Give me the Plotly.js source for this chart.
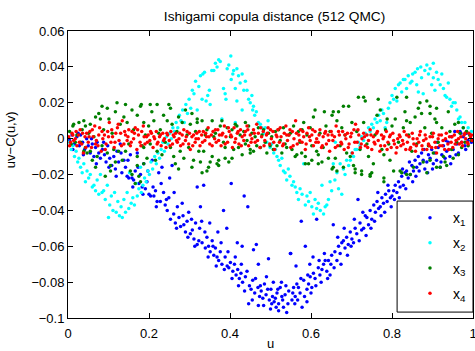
<!DOCTYPE html>
<html>
<head>
<meta charset="utf-8">
<script src="https://cdn.plot.ly/plotly-3.0.1.min.js"></script>
<style>html,body{margin:0;padding:0;background:#fff;}#chart{width:475px;height:351px;}</style>
</head>
<body>
<div id="chart"></div>
<script>
// Series values: [u, uv - C(u,v)]
const x1 = [[0.004,-0.001],[0.010,0.002],[0.016,-0.003],[0.022,0.001],[0.028,-0.004],[0.031,0.002],[0.036,-0.002],[0.041,-0.006],[0.046,0.000],[0.050,-0.004],
[0.055,-0.008],[0.060,-0.003],[0.064,-0.010],[0.068,-0.005],[0.072,-0.002],[0.076,-0.008],[0.080,-0.011],[0.085,-0.006],[0.090,-0.009],[0.094,-0.013],
[0.098,-0.004],[0.103,-0.011],[0.108,-0.015],[0.113,-0.010],[0.117,-0.017],[0.121,-0.007],[0.125,-0.013],[0.129,-0.003],[0.133,-0.019],[0.138,-0.012],
[0.142,-0.016],[0.146,-0.021],[0.150,-0.022],[0.154,-0.009],[0.158,-0.022],[0.162,-0.023],[0.166,-0.018],[0.171,-0.008],[0.175,-0.025],[0.179,-0.020],
[0.183,-0.027],[0.187,-0.014],[0.191,-0.028],[0.195,-0.024],[0.200,-0.031],[0.204,-0.032],[0.208,-0.012],[0.212,-0.032],[0.216,-0.029],[0.220,-0.035],
[0.224,-0.019],[0.228,-0.035],[0.232,-0.016],[0.236,-0.030],[0.240,-0.037],[0.245,-0.040],[0.249,-0.033],[0.253,-0.045],[0.257,-0.015],[0.261,-0.042],
[0.265,-0.047],[0.270,-0.038],[0.274,-0.044],[0.278,-0.049],[0.282,-0.036],[0.286,-0.048],[0.290,-0.052],[0.294,-0.046],[0.298,-0.041],[0.302,-0.053],
[0.307,-0.051],[0.311,-0.056],[0.315,-0.047],[0.319,-0.059],[0.319,-0.027],[0.323,-0.057],[0.327,-0.038],[0.331,-0.058],[0.335,-0.026],[0.339,-0.061],
[0.343,-0.055],[0.347,-0.060],[0.351,-0.063],[0.356,-0.057],[0.360,-0.065],[0.364,-0.061],[0.368,-0.066],[0.372,-0.068],[0.376,-0.063],[0.380,-0.070],
[0.384,-0.040],[0.388,-0.066],[0.393,-0.071],[0.397,-0.072],[0.401,-0.069],[0.403,-0.025],[0.407,-0.074],[0.411,-0.070],[0.415,-0.076],[0.419,-0.073],
[0.423,-0.078],[0.427,-0.075],[0.431,-0.080],[0.435,-0.032],[0.438,-0.077],[0.444,-0.038],[0.446,-0.092],[0.448,-0.082],[0.452,-0.084],[0.456,-0.079],
[0.461,-0.086],[0.465,-0.059],[0.469,-0.083],[0.473,-0.088],[0.477,-0.085],[0.481,-0.089],[0.485,-0.081],[0.489,-0.087],[0.495,-0.067],[0.497,-0.090],
[0.501,-0.084],[0.505,-0.088],[0.509,-0.091],[0.512,-0.089],[0.516,-0.086],[0.520,-0.092],[0.524,-0.083],[0.528,-0.088],[0.532,-0.094],[0.536,-0.087],
[0.540,-0.097],[0.545,-0.085],[0.549,-0.064],[0.553,-0.090],[0.557,-0.083],[0.561,-0.088],[0.565,-0.081],[0.569,-0.083],[0.573,-0.086],[0.576,-0.046],
[0.578,-0.094],[0.582,-0.079],[0.586,-0.060],[0.590,-0.084],[0.594,-0.081],[0.598,-0.077],[0.602,-0.083],[0.606,-0.075],[0.610,-0.078],[0.614,-0.045],
[0.618,-0.072],[0.622,-0.076],[0.627,-0.073],[0.631,-0.070],[0.635,-0.068],[0.639,-0.074],[0.643,-0.068],[0.647,-0.076],[0.651,-0.065],[0.655,-0.048],
[0.659,-0.063],[0.664,-0.068],[0.668,-0.060],[0.672,-0.064],[0.676,-0.058],[0.680,-0.057],[0.684,-0.061],[0.688,-0.055],[0.692,-0.059],[0.697,-0.052],
[0.701,-0.056],[0.705,-0.058],[0.709,-0.050],[0.713,-0.053],[0.716,-0.034],[0.721,-0.047],[0.725,-0.051],[0.730,-0.050],[0.734,-0.043],[0.738,-0.044],
[0.742,-0.048],[0.746,-0.040],[0.750,-0.045],[0.755,-0.037],[0.759,-0.041],[0.763,-0.035],[0.767,-0.039],[0.771,-0.038],[0.775,-0.033],[0.779,-0.036],
[0.784,-0.031],[0.788,-0.035],[0.792,-0.029],[0.796,-0.033],[0.800,-0.032],[0.804,-0.029],[0.808,-0.026],[0.812,-0.030],[0.816,-0.024],[0.820,-0.027],
[0.824,-0.021],[0.828,-0.026],[0.832,-0.019],[0.836,-0.018],[0.840,-0.022],[0.845,-0.020],[0.849,-0.015],[0.853,-0.018],[0.857,-0.012],[0.861,-0.016],
[0.865,-0.010],[0.869,-0.014],[0.873,-0.008],[0.877,-0.012],[0.881,-0.017],[0.886,-0.013],[0.890,-0.009],[0.894,-0.011],[0.898,-0.006],[0.902,-0.014],
[0.906,-0.008],[0.910,-0.012],[0.914,-0.005],[0.919,-0.016],[0.923,-0.009],[0.927,-0.004],[0.931,-0.011],[0.935,-0.007],[0.939,-0.002],[0.943,-0.010],
[0.947,0.001],[0.951,-0.006],[0.955,0.004],[0.960,-0.003],[0.964,-0.008],[0.968,0.004],[0.972,-0.002],[0.976,0.001],[0.980,-0.004],[0.984,0.003],
[0.988,-0.001],[0.992,0.002],[0.996,-0.002],
[0.458,-0.062],[0.470,-0.070],[0.490,-0.077],[0.527,-0.080],[0.550,-0.064],[0.563,-0.071],[0.597,-0.070],[0.605,-0.066],[0.430,-0.060],[0.418,-0.058],
[0.392,-0.050],[0.370,-0.052],[0.350,-0.047],[0.330,-0.046],[0.470,-0.093],[0.500,-0.095],[0.520,-0.096],[0.560,-0.092],[0.590,-0.091],
[0.262,-0.030],[0.268,-0.050],[0.284,-0.043],[0.296,-0.055],[0.305,-0.045],[0.313,-0.060],[0.325,-0.050],[0.338,-0.052],[0.346,-0.066],[0.358,-0.060],
[0.366,-0.071],[0.378,-0.058],[0.386,-0.073],[0.395,-0.063],[0.405,-0.078],[0.413,-0.066],[0.421,-0.082],[0.428,-0.070],[0.436,-0.085],[0.442,-0.074],
[0.455,-0.090],[0.463,-0.078],[0.475,-0.082],[0.483,-0.093],[0.493,-0.084],[0.503,-0.092],[0.507,-0.080],[0.514,-0.094],[0.518,-0.084],[0.530,-0.090],
[0.538,-0.082],[0.543,-0.092],[0.555,-0.086],[0.567,-0.090],[0.575,-0.078],[0.584,-0.088],[0.592,-0.076],[0.600,-0.086],[0.612,-0.082],[0.620,-0.068],
[0.625,-0.080],[0.633,-0.064],[0.641,-0.078],[0.649,-0.070],[0.657,-0.072],[0.666,-0.055],[0.674,-0.070],[0.682,-0.050],[0.690,-0.065],[0.699,-0.060],
[0.707,-0.045],[0.719,-0.057],[0.728,-0.041],[0.736,-0.054],[0.748,-0.050],[0.757,-0.046],[0.765,-0.030],[0.773,-0.043],[0.782,-0.041],[0.790,-0.026],
[0.798,-0.038],[0.806,-0.034],[0.818,-0.033],[0.826,-0.017],[0.834,-0.028],[0.843,-0.013],[0.851,-0.024],[0.859,-0.021],[0.867,-0.018],[0.879,-0.006],
[0.888,-0.019],[0.900,-0.017],[0.912,-0.002],[0.921,-0.013],[0.933,-0.001],[0.945,-0.014],[0.958,-0.009],[0.970,0.003],[0.982,-0.006],
[0.012,-0.006],[0.025,0.003],[0.038,-0.009],[0.058,0.000],[0.070,-0.014],[0.088,-0.002],[0.101,-0.016],[0.119,-0.021],[0.131,-0.008],[0.148,-0.012],
[0.160,-0.027],[0.173,-0.016],[0.185,-0.031],[0.197,-0.018],[0.210,-0.027],[0.218,-0.038],[0.230,-0.025],[0.243,-0.034],[0.251,-0.022]];

const x2 = [[0.003,-0.002],[0.008,-0.006],[0.012,-0.004],[0.016,-0.010],[0.020,-0.007],[0.024,-0.013],[0.027,-0.011],[0.031,-0.016],[0.035,-0.019],[0.039,-0.014],
[0.043,-0.024],[0.047,-0.018],[0.051,-0.022],[0.055,-0.020],[0.060,-0.027],[0.064,-0.026],[0.068,-0.029],[0.072,-0.023],[0.076,-0.031],[0.080,-0.020],
[0.084,-0.030],[0.088,-0.029],[0.092,-0.034],[0.097,-0.026],[0.100,-0.044],[0.103,-0.037],[0.107,-0.032],[0.111,-0.040],[0.115,-0.030],[0.119,-0.041],
[0.123,-0.035],[0.127,-0.043],[0.131,-0.038],[0.134,-0.044],[0.138,-0.034],[0.142,-0.041],[0.146,-0.030],[0.150,-0.039],[0.152,-0.019],[0.156,-0.036],
[0.160,-0.033],[0.164,-0.037],[0.168,-0.025],[0.171,-0.032],[0.175,-0.028],[0.179,-0.016],[0.181,-0.030],[0.185,-0.026],[0.189,-0.022],[0.193,-0.024],
[0.197,-0.018],[0.201,-0.020],[0.205,-0.013],[0.209,-0.017],[0.214,-0.010],[0.218,-0.014],[0.222,-0.008],[0.226,-0.011],[0.230,-0.006],[0.234,-0.002],
[0.238,-0.007],[0.243,0.001],[0.247,-0.003],[0.251,0.003],[0.255,0.000],[0.259,0.006],[0.263,0.004],[0.267,0.009],[0.271,0.006],[0.275,0.013],
[0.279,0.010],[0.283,0.016],[0.287,0.009],[0.291,0.019],[0.295,0.014],[0.299,0.022],[0.303,0.017],[0.307,0.027],[0.311,0.025],[0.315,0.032],
[0.319,0.016],[0.323,0.029],[0.327,0.035],[0.331,0.022],[0.333,0.036],[0.337,0.037],[0.341,0.021],[0.345,0.024],[0.349,0.027],[0.351,0.019],
[0.355,0.038],[0.360,0.038],[0.364,0.042],[0.368,0.040],[0.372,0.044],[0.376,0.043],[0.380,0.011],[0.384,0.028],[0.388,0.025],[0.390,0.022],
[0.393,0.039],[0.397,0.041],[0.402,0.046],[0.403,0.033],[0.407,0.036],[0.409,0.038],[0.413,0.028],[0.413,0.009],[0.417,0.039],[0.417,0.021],
[0.421,0.035],[0.425,0.031],[0.430,0.036],[0.430,0.016],[0.434,0.027],[0.438,0.032],[0.442,0.027],[0.446,0.022],[0.450,0.020],[0.454,0.024],
[0.456,0.016],[0.458,0.018],[0.461,0.013],[0.465,0.015],[0.470,0.009],[0.475,0.008],[0.479,0.006],[0.483,0.003],[0.487,0.006],[0.491,-0.002],
[0.494,0.010],[0.499,-0.005],[0.503,-0.003],[0.508,-0.008],[0.512,-0.006],[0.516,-0.010],[0.520,-0.012],[0.524,-0.015],[0.528,-0.011],[0.532,-0.018],
[0.536,-0.019],[0.540,-0.023],[0.544,-0.017],[0.548,-0.021],[0.553,-0.026],[0.557,-0.024],[0.561,-0.027],[0.565,-0.030],[0.569,-0.034],[0.573,-0.028],
[0.578,-0.031],[0.582,-0.014],[0.586,-0.037],[0.590,-0.032],[0.594,-0.035],[0.598,-0.030],[0.602,-0.038],[0.606,-0.042],[0.610,-0.034],[0.614,-0.039],
[0.618,-0.036],[0.623,-0.040],[0.627,-0.026],[0.631,-0.042],[0.635,-0.038],[0.639,-0.037],[0.643,-0.034],[0.647,-0.024],[0.651,-0.029],[0.655,-0.014],
[0.659,-0.023],[0.660,-0.002],[0.664,-0.019],[0.668,-0.028],[0.672,-0.014],[0.676,-0.031],[0.680,-0.017],[0.684,-0.020],[0.688,-0.012],[0.693,-0.015],
[0.697,-0.012],[0.701,-0.008],[0.705,-0.010],[0.709,-0.006],[0.713,-0.006],[0.717,-0.002],[0.721,-0.004],[0.725,0.001],[0.730,-0.001],[0.734,0.003],
[0.738,0.002],[0.742,0.006],[0.746,0.004],[0.750,0.008],[0.754,0.006],[0.758,0.011],[0.763,0.009],[0.767,0.013],[0.771,0.010],[0.775,0.016],
[0.779,0.014],[0.783,0.006],[0.787,0.009],[0.791,0.017],[0.795,0.020],[0.800,0.024],[0.804,0.022],[0.808,0.028],[0.812,0.021],[0.816,0.030],
[0.820,0.031],[0.824,0.026],[0.828,0.033],[0.832,0.033],[0.836,0.028],[0.840,0.035],[0.845,0.031],[0.849,0.032],[0.851,0.036],[0.857,0.037],
[0.861,0.030],[0.863,0.039],[0.865,0.026],[0.871,0.040],[0.873,0.034],[0.877,0.025],[0.881,0.038],[0.886,0.041],[0.890,0.036],[0.894,0.039],
[0.898,0.030],[0.902,0.042],[0.902,0.034],[0.906,0.027],[0.910,0.037],[0.914,0.033],[0.919,0.030],[0.923,0.036],[0.927,0.028],[0.931,0.024],
[0.935,0.023],[0.939,0.031],[0.943,0.022],[0.947,0.018],[0.951,0.020],[0.956,0.020],[0.960,0.016],[0.964,0.011],[0.968,0.012],[0.972,0.009],
[0.976,0.006],[0.980,0.009],[0.984,0.004],[0.988,0.006],[0.992,0.002],[0.996,0.004]];

const x3 = [[0.004,0.004],[0.008,-0.003],[0.012,0.007],[0.014,0.008],[0.018,-0.002],[0.022,0.002],[0.027,0.009],[0.031,-0.002],[0.035,0.005],[0.039,0.010],
[0.039,-0.007],[0.043,0.007],[0.043,-0.005],[0.047,-0.008],[0.051,0.003],[0.055,0.008],[0.055,-0.007],[0.060,-0.012],[0.064,0.001],[0.068,0.012],
[0.068,-0.016],[0.072,-0.010],[0.076,0.014],[0.080,0.011],[0.084,0.018],[0.084,-0.004],[0.088,0.005],[0.092,-0.021],[0.097,0.017],[0.097,-0.008],
[0.101,0.011],[0.105,-0.015],[0.105,-0.018],[0.109,0.003],[0.113,-0.006],[0.117,0.015],[0.117,-0.013],[0.121,0.020],[0.125,-0.007],[0.129,0.008],
[0.134,-0.012],[0.138,0.012],[0.142,0.019],[0.142,-0.007],[0.146,0.009],[0.150,-0.003],[0.154,-0.018],[0.158,0.016],[0.158,-0.020],[0.162,0.005],
[0.166,-0.025],[0.171,0.013],[0.171,-0.015],[0.171,-0.010],[0.175,-0.021],[0.179,0.018],[0.179,-0.024],[0.181,0.019],[0.183,-0.004],[0.187,0.009],
[0.187,-0.014],[0.187,-0.005],[0.191,0.002],[0.195,-0.011],[0.199,0.007],[0.203,0.019],[0.203,-0.003],[0.207,0.015],[0.212,0.010],[0.216,-0.012],
[0.220,0.019],[0.220,-0.007],[0.224,0.003],[0.228,0.005],[0.232,-0.009],[0.236,0.013],[0.240,-0.002],[0.245,0.010],[0.249,0.019],[0.253,0.017],
[0.253,-0.005],[0.257,0.008],[0.261,-0.010],[0.265,-0.014],[0.269,0.004],[0.273,0.012],[0.273,-0.017],[0.277,-0.007],[0.282,0.009],[0.286,-0.011],
[0.290,0.016],[0.294,0.002],[0.298,-0.005],[0.302,0.008],[0.306,0.014],[0.306,-0.016],[0.310,-0.012],[0.315,0.004],[0.319,0.009],[0.319,0.011],
[0.323,-0.007],[0.327,-0.013],[0.331,0.010],[0.331,-0.019],[0.335,-0.007],[0.339,0.002],[0.343,0.005],[0.343,-0.018],[0.347,-0.016],[0.351,-0.013],
[0.356,0.010],[0.356,-0.010],[0.360,0.001],[0.364,0.003],[0.368,-0.014],[0.372,-0.012],[0.372,-0.015],[0.376,0.007],[0.380,0.010],[0.384,-0.002],
[0.388,-0.011],[0.388,-0.005],[0.393,0.006],[0.397,-0.013],[0.401,0.001],[0.405,0.005],[0.405,-0.011],[0.409,-0.006],[0.413,0.008],[0.417,0.007],
[0.421,-0.005],[0.425,0.002],[0.430,-0.009],[0.434,0.004],[0.438,0.009],[0.438,-0.003],[0.442,-0.001],[0.446,0.007],[0.450,-0.008],[0.450,-0.006],
[0.454,0.003],[0.458,-0.007],[0.462,0.001],[0.466,-0.004],[0.470,0.006],[0.475,-0.005],[0.479,0.002],[0.483,0.005],[0.487,-0.002],[0.491,-0.008],
[0.495,0.003],[0.499,-0.004],[0.503,0.001],[0.507,-0.006],[0.512,0.004],[0.516,-0.004],[0.520,0.005],[0.524,-0.001],[0.528,-0.008],[0.532,0.006],
[0.536,-0.003],[0.540,-0.005],[0.545,0.002],[0.549,0.003],[0.553,-0.006],[0.557,0.007],[0.561,-0.010],[0.565,-0.009],[0.569,0.004],[0.573,-0.002],
[0.577,-0.008],[0.578,0.005],[0.582,0.009],[0.586,-0.010],[0.586,-0.014],[0.590,0.002],[0.594,-0.014],[0.598,0.006],[0.602,-0.004],[0.602,-0.012],
[0.606,0.012],[0.610,0.016],[0.614,-0.007],[0.618,-0.009],[0.618,-0.014],[0.622,0.003],[0.627,-0.013],[0.630,-0.005],[0.633,0.015],[0.637,0.007],
[0.643,-0.011],[0.647,0.004],[0.652,0.013],[0.652,-0.017],[0.655,0.015],[0.655,-0.016],[0.660,-0.011],[0.664,0.010],[0.664,-0.018],[0.668,0.015],
[0.672,-0.004],[0.676,0.006],[0.680,0.018],[0.680,-0.016],[0.684,0.002],[0.688,-0.008],[0.693,0.018],[0.697,-0.010],[0.701,0.009],[0.705,-0.015],
[0.709,-0.017],[0.709,-0.019],[0.713,0.004],[0.717,0.023],[0.721,-0.006],[0.725,-0.020],[0.725,-0.018],[0.730,0.009],[0.730,0.023],[0.734,0.021],
[0.738,-0.003],[0.742,-0.010],[0.746,-0.020],[0.746,-0.021],[0.750,-0.019],[0.754,-0.014],[0.758,0.002],[0.763,0.013],[0.766,0.022],[0.771,0.016],
[0.775,-0.006],[0.780,-0.009],[0.780,-0.022],[0.780,-0.024],[0.784,0.005],[0.788,0.011],[0.792,-0.003],[0.795,-0.012],[0.800,0.007],[0.804,-0.018],
[0.808,0.011],[0.812,0.023],[0.816,-0.002],[0.820,-0.018],[0.824,-0.019],[0.828,0.006],[0.832,0.015],[0.836,0.023],[0.836,0.010],[0.836,-0.020],
[0.841,0.002],[0.845,0.009],[0.845,-0.020],[0.849,-0.007],[0.853,-0.016],[0.857,0.012],[0.861,-0.003],[0.865,0.017],[0.869,0.020],[0.873,0.014],
[0.877,-0.013],[0.881,0.006],[0.886,0.021],[0.886,-0.019],[0.890,-0.004],[0.894,0.018],[0.894,0.014],[0.894,-0.012],[0.898,0.003],[0.902,-0.008],
[0.906,0.011],[0.910,0.017],[0.910,0.009],[0.910,-0.016],[0.914,-0.002],[0.919,-0.016],[0.923,0.006],[0.927,-0.010],[0.931,-0.013],[0.935,-0.015],
[0.939,0.015],[0.943,0.004],[0.947,-0.006],[0.951,-0.011],[0.955,0.008],[0.960,-0.002],[0.964,0.009],[0.964,-0.009],[0.968,0.003],[0.972,-0.005],
[0.976,0.006],[0.980,-0.002],[0.984,0.004],[0.988,-0.004],[0.992,0.002],[0.996,-0.001]];

const x4 = [[0.002,0.001],[0.006,-0.002],[0.010,0.003],[0.014,-0.001],[0.018,0.000],[0.022,-0.004],[0.026,0.002],[0.030,0.005],[0.034,-0.003],[0.038,-0.008],
[0.042,0.001],[0.046,0.003],[0.050,-0.002],[0.054,0.004],[0.058,-0.005],[0.062,0.001],[0.066,0.007],[0.070,-0.001],[0.074,-0.004],[0.078,0.006],
[0.082,-0.007],[0.086,0.000],[0.090,0.002],[0.094,-0.003],[0.098,0.004],[0.102,0.009],[0.106,-0.002],[0.110,0.001],[0.114,-0.005],[0.118,0.003],
[0.122,0.006],[0.126,-0.001],[0.130,0.003],[0.134,0.010],[0.138,-0.003],[0.142,0.002],[0.146,-0.001],[0.150,0.005],[0.154,-0.004],[0.158,0.004],
[0.162,0.000],[0.166,0.006],[0.170,-0.006],[0.174,0.002],[0.178,-0.002],[0.182,0.004],[0.186,0.007],[0.190,-0.003],[0.194,0.001],[0.198,0.002],
[0.202,-0.001],[0.206,0.003],[0.210,-0.005],[0.214,0.000],[0.218,0.004],[0.222,-0.002],[0.226,0.001],[0.230,-0.004],[0.234,0.003],[0.238,0.000],
[0.242,-0.005],[0.246,0.002],[0.250,-0.001],[0.254,0.004],[0.258,-0.003],[0.262,0.001],[0.266,0.003],[0.270,-0.002],[0.274,0.000],[0.278,-0.004],
[0.282,0.002],[0.286,0.005],[0.290,-0.001],[0.294,0.004],[0.298,-0.003],[0.302,-0.006],[0.306,0.001],[0.310,0.002],[0.314,-0.002],[0.318,0.003],
[0.322,0.000],[0.326,-0.004],[0.330,0.002],[0.334,0.004],[0.338,-0.001],[0.342,0.001],[0.346,0.006],[0.350,-0.003],[0.354,0.002],[0.358,0.004],
[0.362,0.000],[0.366,-0.002],[0.370,0.005],[0.374,0.002],[0.378,-0.004],[0.382,0.003],[0.386,0.007],[0.390,0.001],[0.394,-0.002],[0.398,0.004],
[0.402,0.002],[0.406,-0.005],[0.410,0.006],[0.414,0.000],[0.418,0.003],[0.422,-0.003],[0.426,0.005],[0.430,0.001],[0.434,-0.001],[0.438,0.004],
[0.442,0.007],[0.446,-0.004],[0.450,0.002],[0.454,0.000],[0.458,0.005],[0.462,-0.002],[0.466,0.008],[0.470,0.003],[0.474,-0.005],[0.478,0.001],
[0.482,0.004],[0.486,-0.001],[0.490,0.002],[0.494,0.006],[0.498,-0.003],[0.502,0.000],[0.506,0.004],[0.510,-0.006],[0.514,0.002],[0.518,0.005],
[0.522,-0.002],[0.526,0.001],[0.530,-0.004],[0.534,0.003],[0.538,0.007],[0.542,-0.001],[0.546,0.002],[0.550,-0.005],[0.554,0.004],[0.558,0.000],
[0.562,0.010],[0.566,-0.003],[0.570,0.002],[0.574,0.005],[0.578,-0.002],[0.582,0.001],[0.586,-0.006],[0.590,0.003],[0.594,0.006],[0.598,-0.001],
[0.602,0.002],[0.606,-0.004],[0.610,0.004],[0.614,0.000],[0.618,-0.002],[0.622,0.005],[0.626,-0.005],[0.630,0.001],[0.634,0.003],[0.638,-0.003],
[0.642,0.002],[0.646,-0.007],[0.650,0.004],[0.654,-0.001],[0.658,0.001],[0.662,0.007],[0.666,-0.004],[0.670,0.002],[0.674,-0.002],[0.678,0.004],
[0.682,-0.006],[0.686,0.000],[0.690,0.003],[0.694,-0.003],[0.698,0.001],[0.702,-0.008],[0.706,0.005],[0.710,0.008],[0.714,-0.002],[0.718,0.002],
[0.722,-0.005],[0.726,0.000],[0.730,0.003],[0.734,-0.004],[0.738,0.002],[0.742,-0.001],[0.746,0.005],[0.750,-0.006],[0.754,0.001],[0.758,-0.003],
[0.762,0.003],[0.766,-0.001],[0.770,-0.007],[0.774,0.002],[0.778,0.000],[0.782,-0.004],[0.786,0.004],[0.790,-0.002],[0.794,0.001],[0.798,-0.005],
[0.802,0.003],[0.806,-0.003],[0.810,-0.008],[0.814,0.000],[0.818,0.002],[0.822,-0.004],[0.826,-0.001],[0.830,0.004],[0.834,-0.006],[0.838,-0.002],
[0.842,0.001],[0.846,-0.005],[0.850,0.003],[0.854,-0.003],[0.858,-0.007],[0.862,0.000],[0.866,-0.002],[0.870,0.004],[0.874,-0.004],[0.878,-0.001],
[0.882,0.002],[0.886,-0.006],[0.890,-0.003],[0.894,0.001],[0.898,-0.005],[0.902,0.003],[0.906,-0.002],[0.910,-0.008],[0.914,0.000],[0.918,-0.004],
[0.922,0.002],[0.926,-0.001],[0.930,-0.006],[0.934,0.003],[0.938,-0.003],[0.942,0.001],[0.946,-0.002],[0.950,-0.005],[0.954,0.002],[0.958,-0.001],
[0.962,0.004],[0.966,-0.003],[0.970,0.001],[0.974,-0.004],[0.978,0.002],[0.982,0.000],[0.986,-0.002],[0.990,0.003],[0.994,0.001],[0.998,-0.001],
[0.004,-0.004],[0.012,0.002],[0.020,0.004],[0.028,-0.002],[0.036,0.003],[0.044,-0.005],[0.052,0.001],[0.060,0.005],[0.068,-0.003],[0.076,0.002],
[0.084,0.004],[0.092,-0.006],[0.100,0.001],[0.108,0.005],[0.116,-0.002],[0.124,0.008],[0.132,-0.004],[0.140,0.004],[0.148,0.001],[0.156,-0.002],
[0.164,0.003],[0.172,0.005],[0.180,-0.004],[0.188,0.001],[0.196,-0.002],[0.204,0.004],[0.212,0.001],[0.220,-0.003],[0.228,0.002],[0.236,-0.001],
[0.244,0.003],[0.252,-0.004],[0.260,0.002],[0.268,-0.001],[0.276,0.003],[0.284,-0.003],[0.292,0.001],[0.300,0.003],[0.308,-0.004],[0.316,0.000],
[0.324,0.004],[0.332,-0.002],[0.340,0.003],[0.348,0.001],[0.356,-0.004],[0.364,0.005],[0.372,-0.001],[0.380,0.002],[0.388,-0.003],[0.396,0.006],
[0.404,0.001],[0.412,-0.002],[0.420,0.004],[0.428,-0.004],[0.436,0.002],[0.444,0.005],[0.452,-0.002],[0.460,0.003],[0.468,-0.001],[0.476,0.006],
[0.484,-0.004],[0.492,0.003],[0.500,0.005],[0.508,-0.002],[0.516,0.001],[0.524,0.006],[0.532,-0.003],[0.540,0.002],[0.548,0.005],[0.556,-0.004],
[0.564,0.003],[0.572,-0.001],[0.580,0.004],[0.588,-0.003],[0.596,0.001],[0.604,0.005],[0.612,-0.002],[0.620,0.002],[0.628,-0.004],[0.636,0.004],
[0.644,-0.001],[0.652,0.002],[0.660,-0.005],[0.668,0.004],[0.676,-0.003],[0.684,0.002],[0.692,-0.005],[0.700,0.003],[0.708,-0.002],[0.716,0.005],
[0.724,-0.003],[0.732,0.001],[0.740,-0.005],[0.748,0.002],[0.756,-0.002],[0.764,0.004],[0.772,-0.004],[0.780,0.001],[0.788,-0.006],[0.796,0.002],
[0.804,-0.001],[0.812,-0.005],[0.820,0.001],[0.828,-0.003],[0.836,0.002],[0.844,-0.006],[0.852,0.000],[0.860,-0.004],[0.868,0.002],[0.876,-0.006],
[0.884,0.000],[0.892,-0.004],[0.900,0.001],[0.908,-0.005],[0.916,0.002],[0.924,-0.004],[0.932,0.000],[0.940,-0.006],[0.948,0.001],[0.956,-0.003],
[0.964,0.000],[0.972,-0.002],[0.980,0.003],[0.988,-0.003],[0.996,0.002]];

const seriesNames = ['x<sub>1</sub>','x<sub>2</sub>','x<sub>3</sub>','x<sub>4</sub>'];
const seriesColors = ['#0000ff','#00ffff','#007f00','#ff0000'];
const xTickVals = [0,0.2,0.4,0.6,0.8,1];
const xTickText = ['0','0.2','0.4','0.6','0.8','1'];
const yTickVals = [-0.1,-0.08,-0.06,-0.04,-0.02,0,0.02,0.04,0.06];
const yTickText = ['\u22120.1','\u22120.08','\u22120.06','\u22120.04','\u22120.02','0','0.02','0.04','0.06'];

const allSeries = [x1,x2,x3,x4];
const traces = allSeries.map((s,i)=>({
  type:'scatter', mode:'markers', name: seriesNames[i], legendgroup:'g'+i,
  x: s.map(p=>p[0]), y: s.map(p=>p[1]),
  marker:{color: seriesColors[i], size:3.5, line:{width:0}},
  hoverinfo:'skip'
}));

const font = {family:'"Liberation Sans", Arial, Helvetica, sans-serif', size:13, color:'#000'};
const axisCommon = {
  showline:true, linecolor:'#000', linewidth:1, mirror:'ticks',
  ticks:'inside', ticklen:5, tickwidth:1, tickcolor:'#000',
  showgrid:false, zeroline:false, tickfont:font, fixedrange:true
};
const layout = {
  width:475, height:351,
  margin:{l:68, r:2, t:31, b:33, pad:0},
  paper_bgcolor:'#fff', plot_bgcolor:'#fff',
  font:font,
  title:{text:'Ishigami copula distance (512 QMC)', font:{family:font.family, size:13.7, color:'#000'},
    xref:'paper', x:0.51, xanchor:'center', yref:'container', y:1-16/351, yanchor:'middle'},
  xaxis:Object.assign({}, axisCommon, {range:[0,1], tickmode:'array', tickvals:xTickVals, ticktext:xTickText,
    ticklabeloverflow:'allow', ticklabelstandoff:3,
    title:{text:'u', font:font, standoff:2}}),
  yaxis:Object.assign({}, axisCommon, {range:[-0.1,0.06], tickmode:'array', tickvals:yTickVals, ticktext:yTickText}),
  annotations:[{text:'uv\u2212C(u,v)', textangle:-90, xref:'paper', yref:'paper', x:-0.143, y:0.62,
    xanchor:'center', yanchor:'middle', showarrow:false, font:font}],
  showlegend:true,
  legend:{x:0.837, xanchor:'left', y:0.404, yanchor:'top', bgcolor:'rgba(0,0,0,0)', borderwidth:0,
    font:{family:font.family, size:14, color:'#000'}, itemwidth:36, tracegroupgap:4},
  shapes:[{type:'rect', xref:'x', yref:'y', x0:0.8126, x1:1, y0:-0.0967, y1:-0.0348,
    line:{color:'#000', width:1}, fillcolor:'#fff', layer:'above'}],
  hovermode:false
};
Plotly.newPlot('chart', traces, layout, {displayModeBar:false, staticPlot:true});
</script>
</body>
</html>
